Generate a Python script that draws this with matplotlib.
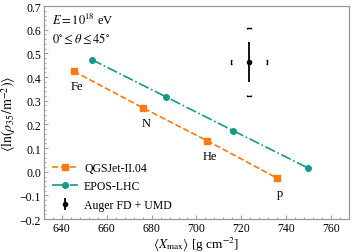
import numpy as np
import matplotlib
matplotlib.use("Agg")
import matplotlib.pyplot as plt
from matplotlib.ticker import AutoMinorLocator, MultipleLocator

plt.rcParams['font.family'] = ['Liberation Serif', 'DejaVu Serif']
plt.rcParams['mathtext.fontset'] = 'stix'
plt.rcParams['font.size'] = 8.5

# QGSJet-II.04 (Fe, N, He, p)
qgs_x = [645.3, 676.3, 704.6, 736.0]
qgs_y = [0.425, 0.269, 0.132, -0.027]
primaries = ['Fe', 'N', 'He', 'p']

# EPOS-LHC
epos_x = [653.3, 686.5, 716.5, 749.7]
epos_y = [0.474, 0.316, 0.173, 0.016]

# Auger FD + UMD
auger_x = 723.5
auger_y = 0.465
auger_stat_y = 0.085
auger_sys_x = 8.0
auger_sys_y = 0.144

orange = '#ff7a12'
teal = '#14998a'

fig = plt.figure(figsize=(3.54, 2.53), dpi=100)
ax = fig.add_axes([0.124, 0.130, 0.862, 0.842])

ax.plot(qgs_x, qgs_y, color=orange, ls='--', marker='s', ms=4, lw=1.2,
        label='QGSJet-II.04')
ax.plot(epos_x, epos_y, color=teal, ls='-.', marker='o', ms=4, lw=1.2,
        label='EPOS-LHC')
ax.errorbar([auger_x], [auger_y], yerr=[auger_stat_y], fmt='o', color='k',
            ms=3, lw=1.3, capsize=0, label='Auger FD + UMD')

# systematic brackets
top = [(-1, -0.6), (-1, 0), (1, 0), (1, -0.6)]
bot = [(-1, 0.6), (-1, 0), (1, 0), (1, 0.6)]
lft = [(0.6, -1), (0, -1), (0, 1), (0.6, 1)]
rgt = [(-0.6, -1), (0, -1), (0, 1), (-0.6, 1)]
for mk, px, py in [(top, auger_x, auger_y + auger_sys_y),
                   (bot, auger_x, auger_y - auger_sys_y),
                   (lft, auger_x - auger_sys_x, auger_y),
                   (rgt, auger_x + auger_sys_x, auger_y)]:
    ax.plot([px], [py], marker=mk, ms=3.4, mfc='none', mec='k', mew=1.0, ls='none')

for x, y, lab in zip(qgs_x, qgs_y, primaries):
    ax.annotate(lab, (x, y), xytext=(2, -11), textcoords='offset points',
                ha='center', va='center', fontsize=9)

ax.text(0.025, 0.975, '$E = 10^{18}$ eV\n$0^{\\circ} \\leq \\theta \\leq 45^{\\circ}$',
        transform=ax.transAxes, ha='left', va='top', fontsize=9, linespacing=1.25)

ax.set_xlim(632, 768)
ax.set_ylim(-0.2, 0.7)
ax.xaxis.set_major_locator(MultipleLocator(20))
ax.yaxis.set_major_locator(MultipleLocator(0.1))
ax.xaxis.set_minor_locator(AutoMinorLocator(5))
ax.yaxis.set_minor_locator(AutoMinorLocator(5))
ax.yaxis.set_major_formatter(plt.FuncFormatter(lambda v, p: f'{v:.1f}'.replace('-', '\u2212')))
ax.tick_params(which='both', direction='in', color='#888888', top=False, right=False,
               labelsize=8.5, pad=2)
ax.tick_params(which='major', length=3, width=0.6)
ax.tick_params(which='minor', length=1.5, width=0.5)
for s in ax.spines.values():
    s.set_color('#999999')
    s.set_linewidth(0.9)

ax.set_xlabel(r'$\langle X_{\mathrm{max}} \rangle$ [g cm$^{-2}$]', labelpad=1, fontsize=9.5)
ax.set_ylabel(r'$\langle \ln(\rho_{35}/\mathrm{m}^{-2}) \rangle$', labelpad=1, fontsize=10)

ax.legend(loc='lower left', frameon=False, fontsize=8.5, handlelength=2.2,
          borderaxespad=0.3, labelspacing=0.55, handletextpad=0.5)

fig.savefig('out.png', dpi=100)
